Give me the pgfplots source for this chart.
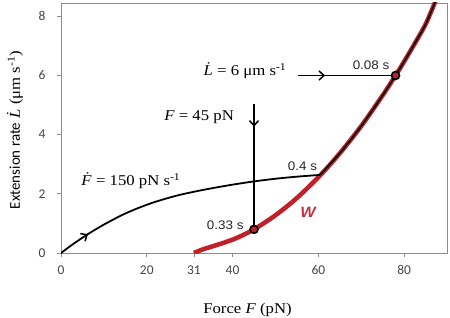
\documentclass[border=0pt]{standalone}
\usepackage{fontspec}
\usepackage{pgfplots}
\pgfplotsset{compat=1.18}
\usetikzlibrary{decorations.markings,arrows.meta}
\setmainfont{Liberation Serif}[FakeStretch=1.12]
\newfontfamily\calfont{Carlito}
\newfontfamily\arialfont{Liberation Sans}[FakeStretch=1.08]
\definecolor{wred}{RGB}{192,32,42}
\definecolor{wlab}{RGB}{200,45,65}
\definecolor{tickgray}{RGB}{70,70,70}
\definecolor{framegray}{RGB}{140,140,140}
\newcommand\dt[1]{\textit{#1}\llap{\raisebox{0.2em}{\upshape ˙}\kern0.1em}}
\begin{document}
\begin{tikzpicture}
\path[use as bounding box] (-61bp,-65bp) rectangle (389bp,253bp);
\begin{axis}[
 scale only axis, width=386bp, height=250bp,
 xmin=0, xmax=90, ymin=0, ymax=8.45,
 xtick={0,20,31,40,60,80}, ytick={0,2,4,6,8},
 tick pos=left, tick align=outside, major tick length=4bp,
 axis line style={framegray, line width=0.9bp},
 major tick style={framegray, line width=0.8bp},
 tick label style={font=\calfont\fontsize{13.5}{14}\selectfont, text=tickgray},
 /pgf/number format/assume math mode=true,
 xticklabel style={yshift=-5bp},
 yticklabel style={xshift=-8bp},
]
\addplot[wred, line width=4.5bp, smooth] coordinates {(31,0)(33,0.12)(35,0.21)(38,0.35)(41,0.51)(45,0.80)(50,1.275)(55,1.86)(60.4,2.62)(65,3.37)(70,4.29)(75,5.33)(78,6.0)(80,6.47)(83,7.21)(85,7.73)(87,8.4)(88,8.8)};
\addplot[black, line width=1.8bp, smooth, postaction={decorate}, decoration={markings, mark=at position 33pt with {\arrow{Straight Barb[length=5bp,width=9bp,line width=1.5bp]}}}] coordinates {(0,0)(3,0.32)(6.3,0.64)(10,0.96)(14.2,1.28)(18,1.52)(22,1.73)(27,1.94)(32,2.10)(36,2.21)(40,2.31)(45,2.42)(50,2.51)(55,2.58)(60.4,2.64)};
\addplot[black, line width=1.6bp, smooth] coordinates {(60.4,2.64)(65,3.37)(70,4.29)(75,5.33)(78,6.0)(80,6.47)(83,7.21)(85,7.73)(87,8.4)(88,8.8)};
\addplot[black, line width=1.8bp, postaction={decorate}, decoration={markings, mark=at position 0.18 with {\arrow{Straight Barb[length=5bp,width=9bp,line width=1.5bp]}}}] coordinates {(45,5.03)(45,0.8)};
\addplot[black, line width=1.8bp, postaction={decorate}, decoration={markings, mark=at position 0.28 with {\arrow{Straight Barb[length=5bp,width=9bp,line width=1.5bp]}}}] coordinates {(55.2,6)(78,6)};
\addplot[only marks, mark=*, mark size=4bp, mark options={fill=wred, draw=black, line width=1.6bp}] coordinates {(45,0.8)(78,6)};
\node[font=\arialfont\fontsize{12.5}{13}\selectfont, text=black!85] at (axis cs:72.3,6.35) {0.08 s};
\node[font=\arialfont\fontsize{12.5}{13}\selectfont, text=black!85] at (axis cs:56.3,2.94) {0.4 s};
\node[font=\arialfont\fontsize{12.5}{13}\selectfont, text=black!85] at (axis cs:38.3,0.93) {0.33 s};
\node[font=\arialfont\bfseries\itshape\fontsize{15}{16}\selectfont, text=wlab] at (axis cs:57.6,1.39) {W};
\node[font=\fontsize{15}{16}\selectfont] at (axis cs:32.2,4.59) {\textit{F} = 45 pN};
\node[font=\fontsize{15}{16}\selectfont] at (axis cs:42.9,6.15) {\dt{L} = 6 μm s\textsuperscript{-1}};
\node[font=\fontsize{15}{16}\selectfont] at (axis cs:16.3,2.43) {\dt{F} = 150 pN s\textsuperscript{-1}};
\end{axis}
\node[font=\fontsize{15}{16}\selectfont] at (186.5bp,-57bp) {Force \textit{F} (pN)};
\node[font=\fontsize{15}{16}\selectfont, rotate=90] at (-46bp,123bp) {{\calfont Extension rate} \dt{L} (μm s\textsuperscript{-1})};
\end{tikzpicture}
\end{document}
